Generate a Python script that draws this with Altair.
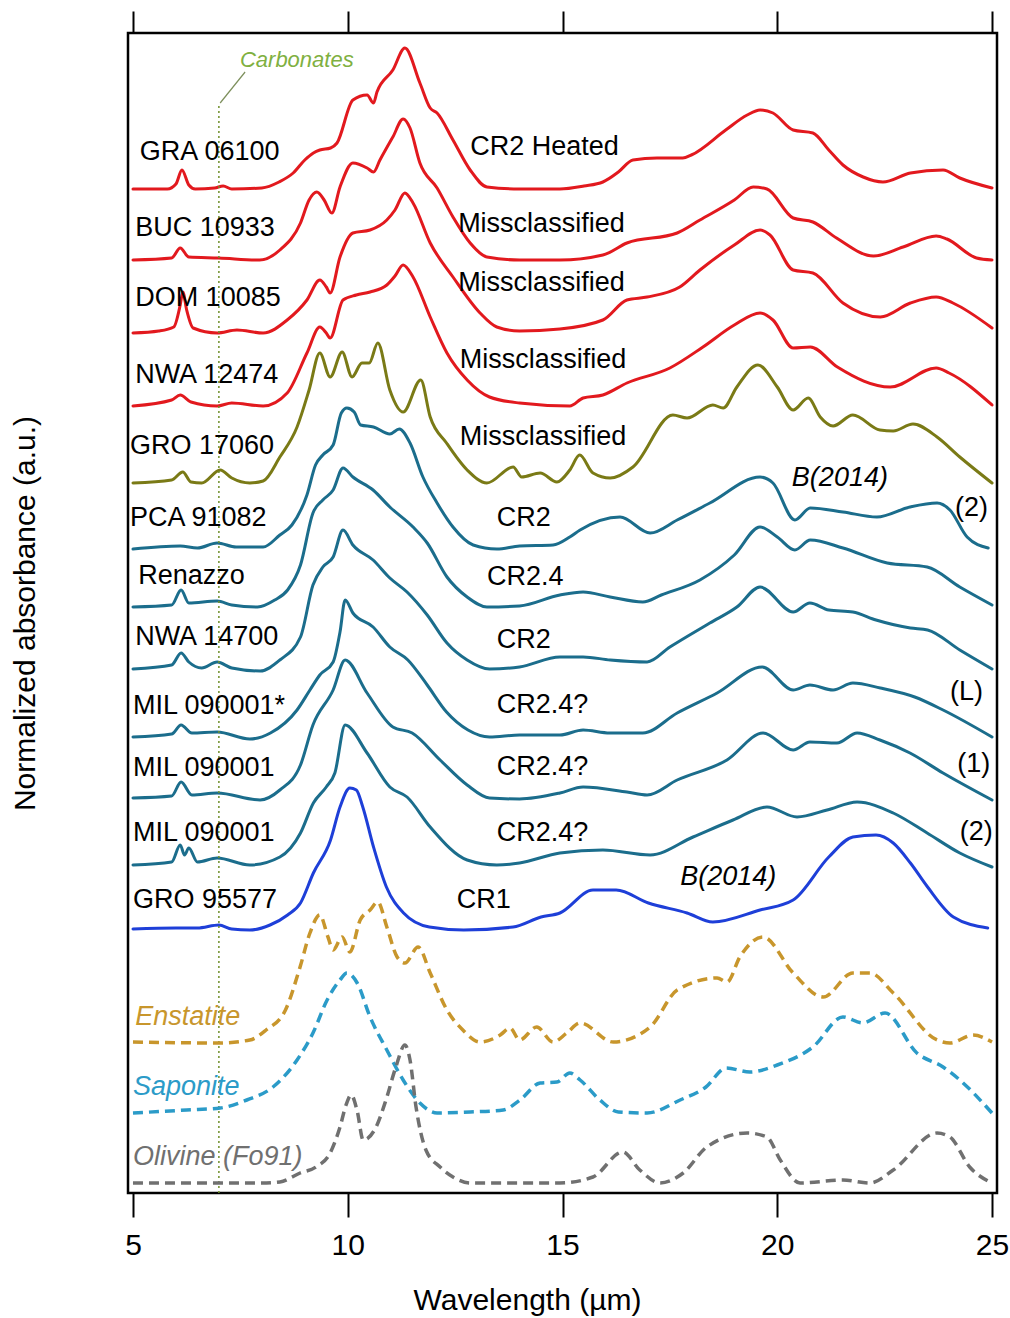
import altair as alt
import pandas as pd

FONT = "Liberation Sans"
TICK_FONT = "Liberation Sans Narrow, Liberation Sans"

# ---- stacked mid-IR spectra: wavelength (µm), absorbance above own baseline, vertical offset ----
GRA_WL = [5.0, 5.8, 6.0, 6.14, 6.3, 6.45, 6.9, 7.1, 7.3, 8.0, 8.4, 8.73, 9.0, 9.2, 9.35, 9.6, 9.75, 10.12, 10.45, 10.6,
          10.68, 11.05, 11.33, 11.68, 11.92, 12.08, 12.45, 12.85, 13.24, 14.0, 14.94, 15.5, 15.94, 16.3, 16.64, 17.2,
          17.8, 18.0, 18.8, 19.3, 19.6, 19.9, 20.37, 20.83, 21.2, 21.53, 22.0, 22.46, 23.1, 23.86, 24.25, 25.0]
GRA_AB = [0, 0, 5, 19, 4, 0, 1, 3, 0, 1, 7, 16, 29, 36, 39, 41, 46, 89, 94, 86,
          97, 119, 141, 106, 81, 76, 49, 19, 2, 0, 0, 3, 7, 17, 29, 31,
          31, 34, 59, 74, 79, 76, 59, 56, 39, 24, 12, 7, 16, 19, 11, 1]

BUC_WL = [5.0, 5.9, 6.1, 6.3, 7.0, 7.95, 8.42, 8.9, 9.1, 9.28, 9.45, 9.63, 9.82, 10.12, 10.45, 10.6, 10.75, 11.05,
          11.29, 11.45, 11.68, 12.08, 12.45, 12.85, 13.24, 14.0, 14.94, 15.94, 16.5, 17.67, 18.2, 19.0, 19.44, 19.76,
          20.37, 20.83, 21.38, 22.24, 22.93, 23.7, 23.95, 24.64, 25.0]
BUC_AB = [0, 2, 12, 3, 2, 0, 10, 37, 60, 68, 60, 47, 73, 97, 92, 88, 100, 123,
          141, 132, 97, 72, 43, 17, 3, 0, 0, 5, 17, 27, 40, 60, 73, 71,
          42, 38, 22, 4, 13, 24, 21, 2, 0]

DOM_WL = [5.0, 5.6, 5.95, 6.1, 6.16, 6.25, 6.4, 6.96, 7.42, 8.03, 8.59, 9.05, 9.35, 9.5, 9.59, 9.82, 10.12, 10.52,
          10.91, 11.1, 11.33, 11.52, 11.92, 12.45, 13.08, 13.47, 14.0, 14.94, 15.94, 16.5, 16.97, 17.73, 18.2, 19.0,
          19.6, 19.83, 20.37, 20.83, 21.53, 22.4, 23.1, 23.7, 24.09, 25.0]
DOM_AB = [-2, 0, 4, 26, 39, 21, 3, -2, 1, -2, 11, 31, 51, 44, 38, 74, 98, 101,
          111, 121, 138, 128, 88, 54, 18, 4, 0, 2, 11, 31, 34, 44, 61, 86,
          101, 96, 61, 58, 28, 14, 28, 34, 28, 3]

NWA1_WL = [5.0, 5.9, 6.1, 6.35, 6.96, 7.3, 8.03, 8.59, 9.05, 9.35, 9.5, 9.59, 9.89, 10.2, 10.52, 10.91, 11.1, 11.29,
           11.52, 11.92, 12.31, 12.78, 13.3, 14.0, 15.17, 15.48, 15.94, 16.5, 17.5, 18.27, 19.0, 19.6, 19.9, 20.37,
           20.77, 21.4, 22.63, 23.7, 24.0, 25.0]
NWA1_AB = [0, 6, 11, 4, 0, 3, 0, 13, 53, 79, 73, 68, 106, 111, 114, 121, 130, 141,
           129, 89, 53, 26, 9, 3, 0, 8, 11, 23, 38, 59, 81, 93, 86, 58,
           59, 39, 19, 38, 33, 1]

GRO1_WL = [5.0, 5.9, 6.16, 6.35, 6.6, 7.03, 7.3, 7.72, 8.03, 8.42, 8.82, 9.1, 9.35, 9.59, 9.87, 10.1, 10.33, 10.5,
           10.7, 10.98, 11.29, 11.7, 11.92, 12.3, 12.78, 13.24, 13.85, 14.05, 14.48, 14.87, 15.17, 15.4, 15.71, 16.11,
           16.64, 17.57, 17.9, 18.5, 18.74, 19.06, 19.55, 20.0, 20.37, 20.72, 21.0, 21.3, 21.76, 22.39, 22.7, 23.16,
           23.72, 24.25, 25.0]
GRO1_AB = [0, 3, 11, 1, 0, 13, 5, 0, 2, 26, 56, 93, 130, 106, 131, 106, 120, 120,
           140, 93, 71, 103, 66, 40, 13, 0, 16, 6, 10, 1, 13, 28, 10, 5,
           16, 68, 65, 78, 75, 96, 118, 96, 73, 85, 66, 57, 68, 53, 52, 59,
           46, 26, 0]

PCA_WL = [5.0, 6.1, 6.5, 6.96, 7.4, 8.03, 8.42, 8.7, 9.05, 9.25, 9.42, 9.66, 9.85, 9.98, 10.15, 10.3, 10.6, 10.98,
          11.2, 11.45, 11.75, 12.08, 12.45, 12.92, 13.47, 14.0, 14.78, 15.17, 15.41, 16.34, 17.04, 17.67, 18.43, 19.6,
          19.9, 20.41, 20.77, 21.53, 22.32, 23.09, 23.72, 24.02, 24.42, 24.91]
PCA_AB = [0, 3, 1, 6, 2, 2, 14, 24, 54, 84, 94, 104, 136, 141, 137, 124, 122, 115,
          120, 106, 72, 46, 22, 4, 0, 3, 4, 12, 19, 32, 16, 29, 46, 72,
          66, 29, 41, 37, 32, 42, 46, 39, 12, 1]

REN_WL = [5.0, 5.9, 6.12, 6.3, 6.96, 7.3, 7.9, 8.3, 8.6, 8.9, 9.19, 9.42, 9.66, 9.89, 10.12, 10.59, 10.98, 11.52,
          11.85, 12.31, 12.78, 13.24, 14.0, 14.94, 15.48, 16.11, 16.87, 17.3, 18.2, 19.0, 19.6, 20.0, 20.41, 20.77,
          21.53, 22.56, 23.49, 24.25, 25.0]
REN_AB = [0, 2, 17, 4, 6, 2, 0, 7, 17, 42, 94, 107, 117, 139, 130, 117, 100, 80,
          64, 30, 10, 0, 1, 12, 15, 10, 5, 12, 27, 52, 80, 70, 57, 67,
          59, 44, 40, 20, 2]

NWA2_WL = [5.0, 5.9, 6.12, 6.3, 6.6, 6.96, 7.3, 7.96, 8.42, 8.9, 9.19, 9.42, 9.66, 9.89, 10.12, 10.59, 10.98, 11.38,
           11.85, 12.31, 12.78, 13.3, 14.0, 14.94, 15.48, 16.11, 16.97, 17.5, 18.43, 19.06, 19.6, 20.37, 20.76, 21.2,
           21.76, 22.3, 23.1, 23.5, 24.25, 25.0]
NWA2_AB = [0, 4, 16, 7, 1, 7, 1, -2, 9, 32, 84, 102, 112, 139, 124, 109, 91, 77,
           54, 26, 9, 0, 2, 12, 12, 9, 7, 22, 46, 62, 82, 57, 66, 59,
           57, 49, 41, 39, 19, 0]

MILL_WL = [5.0, 5.9, 6.12, 6.37, 6.96, 7.72, 8.2, 8.82, 9.12, 9.35, 9.66, 9.82, 9.94, 10.12, 10.59, 10.98, 11.4, 11.85,
           12.3, 12.8, 13.3, 14.0, 14.94, 15.48, 16.1, 16.87, 17.67, 18.6, 19.65, 20.37, 20.76, 21.3, 21.76, 22.4,
           23.2, 23.86, 25.0]
MILL_AB = [0, 3, 12, 4, 5, -2, 4, 27, 47, 62, 75, 105, 137, 124, 110, 90, 77, 52,
           25, 7, 0, 2, 2, 7, 4, 4, 24, 44, 70, 47, 52, 47, 54, 49,
           40, 27, 0]

MIL1_WL = [5.0, 5.9, 6.12, 6.37, 6.96, 7.96, 8.42, 8.9, 9.19, 9.66, 9.94, 10.45, 11.05, 11.5, 12.15, 12.78, 13.3, 14.0,
           14.94, 15.48, 16.5, 16.97, 17.67, 18.83, 19.67, 20.37, 20.76, 21.39, 21.86, 22.39, 23.09, 23.86, 25.0]
MIL1_AB = [2, 4, 18, 5, 7, 0, 10, 35, 75, 110, 140, 107, 73, 67, 40, 15, 2, 1,
           7, 13, 8, 5, 20, 40, 67, 50, 58, 57, 67, 60, 47, 27, 0]

MIL2_WL = [5.0, 5.9, 6.1, 6.2, 6.3, 6.5, 6.96, 7.72, 8.42, 8.9, 9.2, 9.5, 9.7, 9.94, 10.45, 10.98, 11.38, 11.92,
           12.78, 13.47, 14.0, 14.94, 15.94, 17.04, 18.04, 18.97, 19.76, 20.46, 21.16, 21.86, 22.7, 23.49, 24.25, 25.0]
MIL2_AB = [0, 3, 20, 10, 17, 3, 7, 0, 8, 32, 62, 78, 92, 140, 112, 78, 68, 38,
           5, 0, 2, 12, 15, 10, 28, 45, 58, 48, 55, 63, 52, 32, 12, -2]

GRO2_WL = [5.0, 6.0, 6.5, 7.0, 7.3, 7.72, 8.19, 8.6, 8.9, 9.2, 9.6, 9.82, 10.05, 10.2, 10.35, 10.6, 10.9, 11.3,
           11.9, 12.7, 13.85, 14.5, 14.94, 15.71, 16.25, 17.0, 17.9, 18.5, 19.6, 20.37, 21.2, 21.76, 22.3, 22.7,
           23.1, 23.5, 24.1, 24.9]
GRO2_AB = [0, 1, 1, 4, 0, -1, 4, 14, 26, 56, 89, 122, 141, 139, 122, 82, 42, 16,
           2, -1, 2, 12, 16, 39, 39, 26, 16, 7, 19, 29, 72, 92, 94, 86,
           66, 42, 12, 1]

# ---- reference minerals ----
ENS_WL = [5.0, 7.0, 7.72, 8.1, 8.55, 8.89, 9.12, 9.35, 9.54, 9.66, 9.87, 10.05, 10.29, 10.52, 10.7, 10.91, 11.15,
          11.33, 11.64, 11.92, 12.31, 12.68, 13.08, 13.55, 13.78, 14.0, 14.4, 14.78, 15.1, 15.41, 16.18, 17.04, 17.67,
          18.6, 18.83, 19.13, 19.67, 20.37, 21.07, 21.76, 22.16, 22.7, 23.72, 24.02, 24.56, 25.0]
ENS_AB = [1, 0, 3, 13, 33, 76, 110, 128, 106, 93, 106, 91, 123, 133, 141, 116, 86,
          80, 96, 70, 33, 13, 1, 8, 15, 3, 16, 1, 10, 20, 1, 16, 53,
          65, 61, 86, 106, 70, 46, 70, 70, 50, 3, 0, 8, 1]

SAP_WL = [5.0, 6.25, 7.03, 7.65, 8.26, 8.82, 9.19, 9.52, 9.82, 9.98, 10.22, 10.52, 10.91, 11.29, 11.68, 12.08, 12.85,
          13.62, 14.01, 14.48, 14.87, 15.17, 15.41, 15.87, 16.3, 16.97, 17.74, 18.34, 18.81, 19.36, 20.0, 20.83, 21.53,
          21.99, 22.51, 23.25, 23.86, 24.25, 25.0]
SAP_AB = [0, 3, 5, 13, 26, 53, 80, 113, 133, 140, 130, 96, 63, 33, 10, 0, 1,
          3, 13, 30, 31, 40, 33, 13, 1, 0, 13, 26, 45, 41, 48, 66, 96,
          90, 100, 60, 46, 33, 0]

OLI_WL = [5.0, 8.0, 8.42, 8.89, 9.26, 9.59, 9.82, 9.96, 10.08, 10.22, 10.36, 10.66, 10.89, 11.12, 11.33, 11.45, 11.59,
          11.82, 12.15, 12.45, 12.85, 14.94, 15.71, 16.4, 16.8, 17.27, 17.81, 18.36, 19.3, 19.76, 20.07, 20.53, 21.53,
          22.16, 22.7, 23.72, 24.02, 24.48, 25.0]
OLI_AB = [0, 0, 1, 10, 16, 30, 56, 78, 88, 72, 43, 56, 83, 116, 138, 123, 76,
          33, 16, 6, 0, 0, 6, 31, 13, 0, 10, 36, 50, 46, 23, 0, 3,
          0, 13, 50, 46, 16, 0]

RED, OLIVE, TEAL, BLUE = "#e2191e", "#7a7a16", "#1b6d8c", "#1e3fd8"
GOLD, SKY, GREY = "#c8962c", "#2b9bc8", "#707070"

# (id, wavelengths, absorbance, vertical offset, colour, dashed)
SPECTRA = [
    ("GRA 06100", GRA_WL, GRA_AB, 1004, RED, False),
    ("BUC 10933", BUC_WL, BUC_AB, 933, RED, False),
    ("DOM 10085", DOM_WL, DOM_AB, 862, RED, False),
    ("NWA 12474", NWA1_WL, NWA1_AB, 787, RED, False),
    ("GRO 17060", GRO1_WL, GRO1_AB, 710, OLIVE, False),
    ("PCA 91082", PCA_WL, PCA_AB, 644, TEAL, False),
    ("Renazzo", REN_WL, REN_AB, 586, TEAL, False),
    ("NWA 14700", NWA2_WL, NWA2_AB, 524, TEAL, False),
    ("MIL 090001 L", MILL_WL, MILL_AB, 456, TEAL, False),
    ("MIL 090001 1", MIL1_WL, MIL1_AB, 393, TEAL, False),
    ("MIL 090001 2", MIL2_WL, MIL2_AB, 328, TEAL, False),
    ("GRO 95577", GRO2_WL, GRO2_AB, 264, BLUE, False),
    ("Enstatite", ENS_WL, ENS_AB, 150, GOLD, True),
    ("Saponite", SAP_WL, SAP_AB, 80, SKY, True),
    ("Olivine", OLI_WL, OLI_AB, 10, GREY, True),
]

# ---- text annotations ----
SAMPLE_LABELS = ["GRA 06100", "BUC 10933", "DOM 10085", "NWA 12474", "GRO 17060", "PCA 91082", "Renazzo",
                 "NWA 14700", "MIL 090001*", "MIL 090001", "MIL 090001", "GRO 95577"]
SAMPLE_X = [5.16, 5.05, 5.05, 5.05, 4.93, 4.93, 5.12, 5.05, 5.0, 5.0, 5.0, 5.0]
SAMPLE_Y = [1041, 965, 895, 818, 747, 675, 617, 556, 487, 425, 360, 293]

CLASS_LABELS = ["CR2 Heated", "Missclassified", "Missclassified", "Missclassified", "Missclassified", "CR2",
                "CR2.4", "CR2", "CR2.4?", "CR2.4?", "CR2.4?", "CR1"]
CLASS_X = [12.85, 12.57, 12.57, 12.61, 12.61, 13.47, 13.24, 13.47, 13.47, 13.47, 13.47, 12.54]
CLASS_Y = [1046, 969, 910, 833, 756, 675, 616, 553, 488, 426, 360, 293]

REF_LABELS = ["B(2014)", "B(2014)"]
REF_X = [20.34, 17.74]
REF_Y = [715, 316]

NOTE_LABELS = ["(2)", "(L)", "(1)", "(2)"]
NOTE_X = [24.14, 24.02, 24.19, 24.25]
NOTE_Y = [685, 501, 429, 361]

MINERAL_LABELS = ["Enstatite", "Saponite", "Olivine (Fo91)"]
MINERAL_X = [5.05, 5.0, 5.0]
MINERAL_Y = [176, 106, 36]
MINERAL_COLORS = [GOLD, SKY, GREY]

CARB_WL = 7.0
CARB_TOP = 1090
CARB_LABEL_X, CARB_LABEL_Y = 7.49, 1133
LEADER_X, LEADER_Y = [7.03, 7.61], [1090, 1121]

TICKS = [5, 10, 15, 20, 25]
X_DOMAIN = [4.884, 25.116]
Y_DOMAIN = [0, 1160]

rows = []
for sid, wl, ab, off, col, dashed in SPECTRA:
    for w, a in zip(wl, ab):
        rows.append({"id": sid, "w": w, "y": off + a, "color": col, "dashed": dashed})
spec = pd.DataFrame(rows)

xs = alt.Scale(domain=X_DOMAIN, nice=False, zero=False)
ys = alt.Scale(domain=Y_DOMAIN, nice=False, zero=False)

bottom_axis = alt.Axis(values=TICKS, format="d", grid=False, domain=False, tickSize=24, tickWidth=2,
                       tickColor="black", labelFont=TICK_FONT, labelFontSize=30, labelColor="black",
                       labelPadding=13, title="Wavelength (µm)", titleFont=FONT, titleFontSize=30,
                       titleFontWeight="normal", titleColor="black", titleX=399, titleY=107,
                       titleBaseline="middle", titleAlign="center")
top_axis = alt.Axis(orient="top", values=TICKS, grid=False, domain=False, labels=False, tickSize=22,
                    tickWidth=2, tickColor="black", title=None)
left_axis = alt.Axis(grid=False, domain=False, ticks=False, labels=False,
                     title="Normalized absorbance (a.u.)", titleFont=FONT, titleFontSize=30,
                     titleFontWeight="normal", titleColor="black", titlePadding=88)

solid = alt.Chart(spec[~spec["dashed"]]).mark_line(
    strokeWidth=3, interpolate="monotone", strokeJoin="round", strokeCap="round"
).encode(
    x=alt.X("w:Q", scale=xs, axis=bottom_axis),
    y=alt.Y("y:Q", scale=ys, axis=left_axis),
    color=alt.Color("color:N", scale=None),
    detail="id:N",
)

dashed = alt.Chart(spec[spec["dashed"]]).mark_line(
    strokeWidth=3.5, strokeDash=[10, 6], interpolate="monotone"
).encode(
    x=alt.X("w:Q", scale=xs, axis=None),
    y=alt.Y("y:Q", scale=ys, axis=None),
    color=alt.Color("color:N", scale=None),
    detail="id:N",
)

carb = alt.Chart(pd.DataFrame({"x": [CARB_WL], "y": [0], "y2": [CARB_TOP]})).mark_rule(
    color="#6f8f2a", strokeWidth=1.5, strokeDash=[2, 3]
).encode(
    x=alt.X("x:Q", scale=xs, axis=top_axis),
    y=alt.Y("y:Q", scale=ys, axis=None),
    y2="y2:Q",
)

leader = alt.Chart(pd.DataFrame({"x": [LEADER_X[0]], "x2": [LEADER_X[1]],
                                 "y": [LEADER_Y[0]], "y2": [LEADER_Y[1]]})).mark_rule(
    color="#7d8f5c", strokeWidth=1.2
).encode(
    x=alt.X("x:Q", scale=xs, axis=None), x2="x2:Q",
    y=alt.Y("y:Q", scale=ys, axis=None), y2="y2:Q",
)


def text_layer(labels, xv, yv, color="black", italic=False, size=27):
    df = pd.DataFrame({"label": labels, "x": xv, "y": yv})
    return alt.Chart(df).mark_text(
        align="left", baseline="middle", font=FONT, fontSize=size, color=color,
        fontStyle="italic" if italic else "normal"
    ).encode(
        x=alt.X("x:Q", scale=xs, axis=None),
        y=alt.Y("y:Q", scale=ys, axis=None),
        text="label:N",
    )


mineral_df = pd.DataFrame({"label": MINERAL_LABELS, "x": MINERAL_X, "y": MINERAL_Y, "c": MINERAL_COLORS})
mineral_text = alt.Chart(mineral_df).mark_text(
    align="left", baseline="middle", font=FONT, fontSize=27, fontStyle="italic"
).encode(
    x=alt.X("x:Q", scale=xs, axis=None),
    y=alt.Y("y:Q", scale=ys, axis=None),
    text="label:N",
    color=alt.Color("c:N", scale=None),
)

chart = alt.layer(
    solid, carb, leader, dashed,
    text_layer(SAMPLE_LABELS, SAMPLE_X, SAMPLE_Y),
    text_layer(CLASS_LABELS, CLASS_X, CLASS_Y),
    text_layer(REF_LABELS, REF_X, REF_Y, italic=True),
    text_layer(NOTE_LABELS, NOTE_X, NOTE_Y),
    text_layer(["Carbonates"], [CARB_LABEL_X], [CARB_LABEL_Y], color="#7fb041", italic=True, size=22),
    mineral_text,
).resolve_axis(x="independent", y="independent").properties(
    width=869, height=1160,
    autosize=alt.AutoSizeParams(type="none"),
    padding={"left": 128, "top": 33, "right": 13, "bottom": 125},
    background="white",
).configure_view(
    stroke="black", strokeWidth=2.5
)

chart.save("out.html", embed_options={"renderer": "svg", "actions": False})
